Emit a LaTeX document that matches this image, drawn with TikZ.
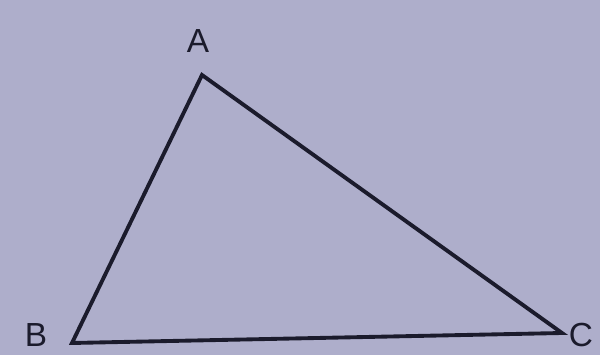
\documentclass[tikz,border=0pt]{standalone}
\usepackage{fontspec}
\setmainfont{Liberation Sans}
\usepackage{xcolor}
\definecolor{paper}{HTML}{AEAECB}
\definecolor{ink}{HTML}{1B1B2C}
\tikzset{
  side/.style={
    line width=2.2pt,
    draw=ink,
    line join=miter
  },
  vlabel/.style={
    font=\fontsize{19}{22}\selectfont,
    text=ink,
    inner sep=0pt
  }
}

\begin{document}
\begin{tikzpicture}[x=1cm,y=1cm]

% Background
\fill[paper] (0,0) rectangle (12,7.1);
\useasboundingbox (0,0) rectangle (12,7.1);

% vertices
\coordinate (A) at (4.04,5.6);
\coordinate (B) at (1.44,0.24);
\coordinate (C) at (11.24,0.44);

% sides
\draw[side] (A) -- (B) -- (C) -- cycle;

% labels
\node[vlabel] (labA) at (3.96,6.28) {A};
\node[vlabel, anchor=base] (labB) at (0.72,0.17) {B};
\node[vlabel, anchor=base] (labC) at (11.62,0.17) {C};

\end{tikzpicture}
\end{document}
